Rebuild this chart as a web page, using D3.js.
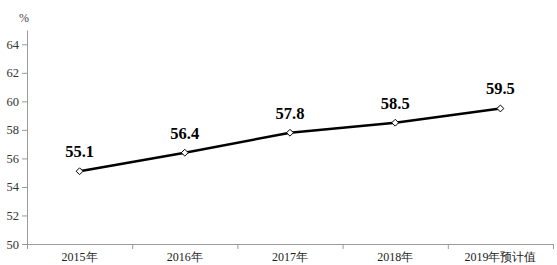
<!DOCTYPE html>
<html>
<head>
<meta charset="utf-8">
<script src="https://cdn.jsdelivr.net/npm/d3@7/dist/d3.min.js"></script>
<style>
  html, body { margin: 0; padding: 0; background: #fff; }
  svg { display: block; }
</style>
</head>
<body>
<svg id="chart" width="557" height="265"></svg>
<script>
const categories = ["2015年", "2016年", "2017年", "2018年", "2019年预计值"];
const values = [55.1, 56.4, 57.8, 58.5, 59.5];
const yTicks = [50, 52, 54, 56, 58, 60, 62, 64];
const yUnit = "%";

const svg = d3.select("#chart");
const margin = { left: 27, right: 4, top: 30, bottom: 21 };
const W = 557, H = 265;
const serif = "'Liberation Serif', 'Times New Roman', serif";
const axisColor = "#9a9a9a";

const x = d3.scaleBand().domain(categories).range([margin.left, W - margin.right]).padding(0);
const y = d3.scaleLinear().domain([50, 65]).range([H - margin.bottom, margin.top]);

// Y axis
const yAxis = svg.append("g")
  .attr("transform", `translate(${margin.left},0)`)
  .call(d3.axisLeft(y).tickValues(yTicks).tickSize(5).tickPadding(3).tickSizeOuter(0));
yAxis.select(".domain").attr("stroke", axisColor);
yAxis.selectAll(".tick line").attr("stroke", axisColor);
yAxis.selectAll(".tick text")
  .attr("fill", "#333")
  .style("font-family", serif)
  .style("font-size", "12.5px");

// X axis
const xAxis = svg.append("g")
  .attr("transform", `translate(0,${y(50)})`)
  .call(d3.axisBottom(x).tickSize(0).tickPadding(8));
xAxis.select(".domain").attr("stroke", axisColor);
xAxis.selectAll(".tick text")
  .attr("fill", "#222")
  .style("font-family", serif)
  .style("font-size", "12px");
// boundary tick marks between categories
const bounds = categories.map(c => x(c)).concat([x(categories[categories.length - 1]) + x.bandwidth()]);
xAxis.selectAll(".bound")
  .data(bounds)
  .enter().append("line")
  .attr("class", "bound")
  .attr("x1", d => d + 0.5).attr("x2", d => d + 0.5)
  .attr("y1", 0).attr("y2", 5)
  .attr("stroke", axisColor);

// unit label
svg.append("text")
  .attr("x", margin.left - 3)
  .attr("y", 22)
  .attr("text-anchor", "middle")
  .attr("fill", "#444")
  .style("font-family", serif)
  .style("font-size", "12px")
  .text(yUnit);

const data = categories.map((c, i) => ({ c, v: values[i] }));
const cx = d => x(d.c) + x.bandwidth() / 2;

// line
svg.append("path")
  .datum(data)
  .attr("fill", "none")
  .attr("stroke", "#000")
  .attr("stroke-width", 2.5)
  .attr("d", d3.line().x(cx).y(d => y(d.v)));

// markers
const diamond = d3.symbol().type(d3.symbolDiamond2).size(30);
svg.selectAll(".pt")
  .data(data)
  .enter().append("path")
  .attr("class", "pt")
  .attr("transform", d => `translate(${cx(d)},${y(d.v)})`)
  .attr("d", diamond)
  .attr("fill", "#fff")
  .attr("stroke", "#000")
  .attr("stroke-width", 1);

// value labels
svg.selectAll(".lbl")
  .data(data)
  .enter().append("text")
  .attr("class", "lbl")
  .attr("x", cx)
  .attr("y", d => y(d.v) - 14)
  .attr("text-anchor", "middle")
  .attr("fill", "#000")
  .style("font-family", serif)
  .style("font-size", "16.5px")
  .style("font-weight", "bold")
  .text(d => d.v.toFixed(1));
</script>
</body>
</html>
